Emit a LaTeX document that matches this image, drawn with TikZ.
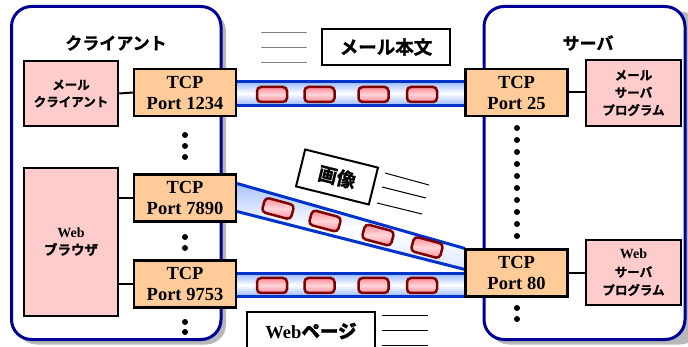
\documentclass[tikz,border=0pt]{standalone}
\usepackage{fontspec}
\setmainfont{Liberation Serif}
\newfontfamily\jpfont[FakeBold=1.3]{Noto Sans CJK JP Bold}
\newcommand\jpt[1]{{\jpfont #1}}
\definecolor{navy}{HTML}{000099}
\definecolor{pipeblue}{HTML}{0033CC}
\definecolor{pipelight}{HTML}{99B8FF}
\definecolor{pinkfill}{HTML}{FFCCCC}
\definecolor{orangefill}{HTML}{FFCC99}
\definecolor{capborder}{HTML}{800000}
\definecolor{capdark}{HTML}{FF8A96}
\definecolor{caplight}{HTML}{FFD6DA}
\definecolor{shadowgray}{HTML}{B8B8B8}
\tikzset{
  portbox/.style={draw, line width=2.5pt, fill=orangefill, minimum width=102pt, minimum height=47pt,
    inner sep=0pt, align=center, font=\fontsize{18.5}{21}\selectfont\bfseries},
  appbox/.style={draw, line width=2.5pt, fill=pinkfill, inner sep=0pt, align=center,
    font=\fontsize{12.5}{17}\selectfont},
  msgbox/.style={draw, line width=2pt, fill=white, inner sep=0pt, align=center,
    font=\fontsize{18.5}{22}\selectfont},
  capsule/.style={draw=capborder, line width=2.5pt, rounded corners=4pt, minimum width=30pt,
    minimum height=15pt, inner sep=0pt, top color=capdark, bottom color=capdark, middle color=caplight},
  title/.style={font=\fontsize{17}{20}\selectfont, inner sep=0pt},
  link/.style={line width=2pt},
  dot/.style={fill=black},
  speedgray/.style={line width=1pt, gray},
  speedblack/.style={line width=1pt, black},
  pipeedge/.style={line width=3pt, pipeblue},
  hostbox/.style={line width=3pt, draw=navy, fill=white, rounded corners=20pt},
  hostshadow/.style={fill=shadowgray, rounded corners=20pt}
}
\begin{document}
\begin{tikzpicture}[x=1pt, y=-1pt]
\clip (0,0) rectangle (688,347);
\fill[white] (0,0) rectangle (688,347);
% host boxes
\fill[hostshadow] (16.5,11.5) rectangle (226,344.5);
\draw[hostbox] (11.5,6.5) rectangle (221,339.5);
\fill[hostshadow] (489,11.5) rectangle (700,344.5);
\draw[hostbox] (484,6.5) rectangle (685,339.5);
\node[title] (tclient) at (116,43) {\jpt{クライアント}};
\node[title] (tserver) at (588,43) {\jpt{サーバ}};

% pipes
\coordinate (a1) at (237,81.5);  \coordinate (a2) at (465,81.5);
\coordinate (a3) at (237,105.5); \coordinate (a4) at (465,105.5);
\shade[top color=pipelight, bottom color=pipelight, middle color=white] (a1) rectangle (a4);
\draw[pipeedge] (a1) -- (a2);
\draw[pipeedge] (a3) -- (a4);

\coordinate (b1) at (237,273.5); \coordinate (b2) at (465,273.5);
\coordinate (b3) at (237,296.5); \coordinate (b4) at (465,296.5);
\shade[top color=pipelight, bottom color=pipelight, middle color=white] (b1) rectangle (b4);
\draw[pipeedge] (b1) -- (b2);
\draw[pipeedge] (b3) -- (b4);

\coordinate (c1) at (237,183.5); \coordinate (c2) at (465,248.5);
\coordinate (c3) at (237,211.5); \coordinate (c4) at (465,269.5);
\begin{scope}
\clip (c1) -- (c2) -- (c4) -- (c3) -- cycle;
\shade[rotate around={-15:(351,228)}, top color=pipelight, bottom color=white!60!pipelight, middle color=white]
  (200,213) rectangle (500,243);
\end{scope}
\draw[pipeedge] (c1) -- (c2);
\draw[pipeedge] (c3) -- (c4);

% capsules
\foreach \i/\x in {1/272,2/319.5,3/373.5,4/422}{
  \node[capsule] (ta\i) at (\x,94.5) {};
  \node[capsule] (tb\i) at (\x,285.5) {};
}
\node[capsule, rotate=-15] (tc1) at (278,208.5) {};
\node[capsule, rotate=-15] (tc2) at (325,221) {};
\node[capsule, rotate=-15] (tc3) at (378,235) {};
\node[capsule, rotate=-15] (tc4) at (427,247.5) {};

% ports
\node[portbox] (p1234) at (185,92.5) {TCP\\Port 1234};
\node[portbox] (p7890) at (185,198) {TCP\\Port 7890};
\node[portbox] (p9753) at (185,284) {TCP\\Port 9753};
\node[portbox] (p25) at (516.5,92.5) {TCP\\Port 25};
\node[portbox] (p80) at (516.5,273) {TCP\\Port 80};

% applications
\node[appbox, minimum width=94pt, minimum height=65pt] (mc) at (71,93.5) {\jpt{メール}\\\jpt{クライアント}};
\node[appbox, minimum width=94pt, minimum height=148pt] (br) at (71,242)
  {{\fontsize{14}{17}\selectfont\bfseries Web}\\\jpt{\fontsize{13.5}{17}\selectfont ブラウザ}};
\node[appbox, minimum width=95pt, minimum height=66pt, font=\fontsize{12.5}{17.5}\selectfont] (ms) at (633.5,93)
  {\jpt{メール}\\\jpt{サーバ}\\\jpt{プログラム}};
\node[appbox, minimum width=95pt, minimum height=65pt, font=\fontsize{12.5}{18}\selectfont] (ws) at (633.5,272.5)
  {{\fontsize{14}{18}\selectfont\bfseries Web}\\\jpt{サーバ}\\\jpt{プログラム}};

% links
\draw[link] (mc.east) -- (p1234.west);
\draw[link] (br.east |- p7890.west) -- (p7890.west);
\draw[link] (br.east |- p9753.west) -- (p9753.west);
\draw[link] (p25.east) -- (ms.west |- p25.east);
\draw[link] (p80.east) -- (ws.west |- p80.east);

% dots
\foreach \y in {135,146,157,237,248,322,332}{ \fill[dot] (185,\y) circle (3pt); }
\foreach \y in {128,140,152,164,176,188,200,212,224,236,308,319}{ \fill[dot] (517,\y) circle (3pt); }

% messages
\node[msgbox, minimum width=128pt, minimum height=36pt] (mail) at (386,47) {\jpt{メール本文}};
\node[msgbox, minimum width=75pt, minimum height=38pt, rotate=-14, font=\fontsize{19}{22}\selectfont] (img) at (337,177) {\jpt{画像}};
\node[msgbox, minimum width=128pt, minimum height=38pt] (web) at (311,331) {\bfseries Web\jpt{ページ}};

% speed lines
\draw[speedgray] (261,33) -- (307,33);
\draw[speedgray] (261,48) -- (307,48);
\draw[speedgray] (261,63) -- (307,63);
\draw[speedblack] (385,173) -- (429,185);
\draw[speedblack] (382,187) -- (426,198);
\draw[speedblack] (377,203) -- (422,214);
\draw[speedblack] (382,316) -- (428,316);
\draw[speedblack] (382,330) -- (428,330);
\draw[speedblack] (382,345) -- (428,345);
\end{tikzpicture}
\end{document}
